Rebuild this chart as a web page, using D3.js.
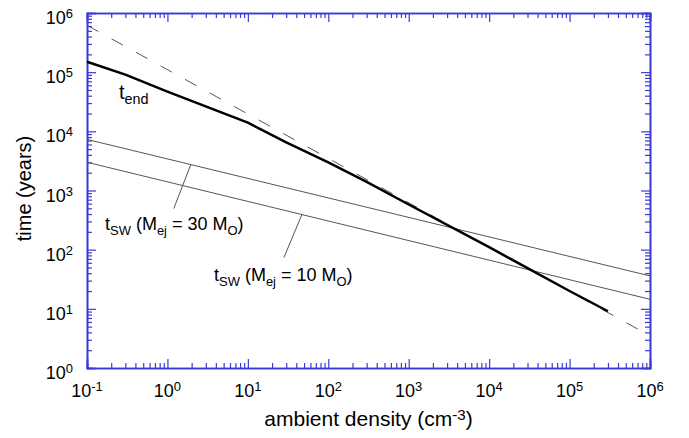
<!DOCTYPE html>
<html>
<head>
<meta charset="utf-8">
<script src="https://cdn.jsdelivr.net/npm/d3@7"></script>
<style>
    body { margin: 0; background: #fff; }
    text { font-family: "Liberation Sans", Arial, sans-serif; fill: #000; }
</style>
</head>
<body>
<div id="chart-area"></div>
<script>
// Data
const density = [0.1, 0.3, 1, 10, 30, 100, 300, 1000, 1e4, 1e5, 3e5];
const tEnd = [1.5e5, 9.1e4, 4.7e4, 1.4e4, 6.5e3, 3.0e3, 1.4e3, 580, 110, 20, 9.1];

const asymptoteDensity = [0.1, 1e6];
const asymptoteTime = [6.2e5, 3.5];

const swDensity = [0.1, 1e6];
const tSW30 = [7300, 36];
const tSW10 = [3000, 14.5];

const xDecades = [-1, 0, 1, 2, 3, 4, 5, 6];
const yDecades = [0, 1, 2, 3, 4, 5, 6];

(function () {
    'use strict';

    const wChart = 689;
    const hChart = 438;
    const margin = {top: 13, right: 39, bottom: 70, left: 87};
    const wGraph = wChart - margin.left - margin.right;
    const hGraph = hChart - margin.top - margin.bottom;
    const axisColor = '#3a3ad8';

    const svg = d3.select('#chart-area')
        .append('svg')
        .attr('width', wChart)
        .attr('height', hChart);

    const graph = svg.append('g')
        .attr('transform', `translate(${margin.left}, ${margin.top})`);

    const xScale = d3.scaleLog().domain([0.1, 1e6]).range([0, wGraph]);
    const yScale = d3.scaleLog().domain([1, 1e6]).range([hGraph, 0]);

    // major = decades, minor = the rest of log ticks
    const isMajor = v => Math.abs(Math.log10(v) - Math.round(Math.log10(v))) < 1e-6;
    const xMinor = xScale.ticks().filter(v => !isMajor(v));
    const yMinor = yScale.ticks().filter(v => !isMajor(v));
    const xMajor = xDecades.map(e => Math.pow(10, e));
    const yMajor = yDecades.map(e => Math.pow(10, e));

    function drawAxis(axisFn, scale, major, minor, transform) {
        const g = graph.append('g').attr('transform', transform);
        g.append('g').call(axisFn(scale).tickValues(major).tickSize(-9).tickFormat(''));
        g.append('g').call(axisFn(scale).tickValues(minor).tickSize(-5).tickFormat(''));
        g.selectAll('path').attr('stroke', axisColor).attr('stroke-width', 1.6);
        g.selectAll('line').attr('stroke', axisColor).attr('stroke-width', 1.2);
        return g;
    }

    drawAxis(d3.axisBottom, xScale, xMajor, xMinor, `translate(0, ${hGraph})`);
    drawAxis(d3.axisTop, xScale, xMajor, xMinor, 'translate(0, 0)');
    drawAxis(d3.axisLeft, yScale, yMajor, yMinor, 'translate(0, 0)');
    drawAxis(d3.axisRight, yScale, yMajor, yMinor, `translate(${wGraph}, 0)`);

    // Rich text helper: parts = [[text, 'sup'|'sub'|''], ...]
    function richText(parent, x, y, parts, size, anchor) {
        const t = parent.append('text')
            .attr('x', x)
            .attr('y', y)
            .attr('font-size', size + 'px')
            .attr('text-anchor', anchor || 'start');
        let shift = 0;
        parts.forEach(([s, kind]) => {
            const target = kind === 'sup' ? -6 : kind === 'sub' ? 5 : 0;
            t.append('tspan')
                .attr('dy', target - shift)
                .attr('font-size', (kind ? size * 0.72 : size) + 'px')
                .text(s);
            shift = target;
        });
        return t;
    }

    // Tick labels
    xDecades.forEach(e => {
        richText(graph, xScale(Math.pow(10, e)), hGraph + 29, [['10', ''], [String(e), 'sup']], 18, 'middle');
    });
    yDecades.forEach(e => {
        richText(graph, -14, yScale(Math.pow(10, e)) + 11, [['10', ''], [String(e), 'sup']], 18, 'end');
    });

    // Axis labels
    richText(svg, margin.left + wGraph / 2, 426, [['ambient density (cm', ''], ['-3', 'sup'], [')', '']], 21, 'middle');
    svg.append('text')
        .attr('transform', `translate(31, ${margin.top + hGraph / 2 - 2}) rotate(-90)`)
        .attr('font-size', '20px')
        .attr('text-anchor', 'middle')
        .text('time (years)');

    const line = d3.line()
        .x(d => xScale(d[0]))
        .y(d => yScale(d[1]));

    // Asymptote (dashed)
    graph.append('path')
        .datum(d3.zip(asymptoteDensity, asymptoteTime))
        .attr('d', line)
        .attr('fill', 'none')
        .attr('stroke', '#555')
        .attr('stroke-width', 1)
        .attr('stroke-dasharray', '13,15');

    // Swept-up wind times
    [tSW30, tSW10].forEach(series => {
        graph.append('path')
            .datum(d3.zip(swDensity, series))
            .attr('d', line)
            .attr('fill', 'none')
            .attr('stroke', '#555')
            .attr('stroke-width', 1);
    });

    // t_end
    graph.append('path')
        .datum(d3.zip(density, tEnd))
        .attr('d', line)
        .attr('fill', 'none')
        .attr('stroke', '#000')
        .attr('stroke-width', 2.5)
        .attr('stroke-linejoin', 'round');

    // position on a straight log-log series
    function onLine(xs, ys, n) {
        const f = (Math.log10(n) - Math.log10(xs[0])) / (Math.log10(xs[1]) - Math.log10(xs[0]));
        const ly = Math.log10(ys[0]) + f * (Math.log10(ys[1]) - Math.log10(ys[0]));
        return [xScale(n), yScale(Math.pow(10, ly))];
    }

    // Leader lines
    const lead30 = onLine(swDensity, tSW30, 1.95);
    const lead10 = onLine(swDensity, tSW10, 47);
    [[lead30, [-17, 44]], [lead10, [-18, 43]]].forEach(([p, d]) => {
        graph.append('line')
            .attr('x1', p[0]).attr('y1', p[1])
            .attr('x2', p[0] + d[0]).attr('y2', p[1] + d[1])
            .attr('stroke', '#555')
            .attr('stroke-width', 1);
    });

    // Annotations
    richText(svg, 119, 99, [['t', ''], ['end', 'sub']], 20);
    richText(svg, 105, 230, [['t', ''], ['SW', 'sub'], [' (M', ''], ['ej', 'sub'], [' = 30 M', ''], ['O', 'sub'], [')', '']], 18);
    richText(svg, 214, 281, [['t', ''], ['SW', 'sub'], [' (M', ''], ['ej', 'sub'], [' = 10 M', ''], ['O', 'sub'], [')', '']], 18);
})();
</script>
</body>
</html>
